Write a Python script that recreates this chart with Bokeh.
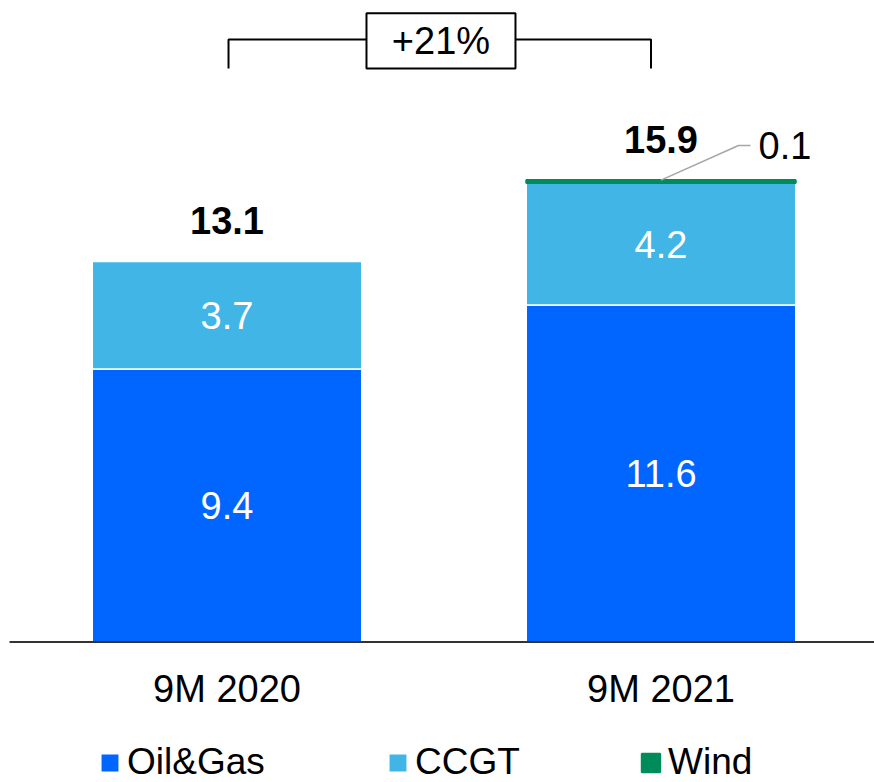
from bokeh.plotting import figure
from bokeh.models import Range1d, Legend, LegendItem, ColumnDataSource
from bokeh.core.properties import value
from bokeh.embed import file_html
from bokeh.resources import INLINE

# ---- data -------------------------------------------------------------
periods = ["9M 2020", "9M 2021"]
oil_gas = [9.4, 11.6]
ccgt = [3.7, 4.2]
wind = [0.0, 0.1]

series_names = ["Oil&Gas", "CCGT", "Wind"]
colors = {"Oil&Gas": "#0066FF", "CCGT": "#41B6E6", "Wind": "#008C5A"}

FONT = "Liberation Sans"
FS = "38px"

# ---- derived values ---------------------------------------------------
xs = list(range(len(periods)))
ccgt_bottom = oil_gas
ccgt_top = [o + c for o, c in zip(oil_gas, ccgt)]
totals = [round(o + c + w, 1) for o, c, w in zip(oil_gas, ccgt, wind)]
growth = round((totals[1] / totals[0] - 1) * 100)
growth_label = f"+{growth}%"

# ---- figure: one frame covering the whole canvas ------------------------
W, H = 874, 782
PX_X = 434.0      # pixels per category step
PX_Y = 29.05      # pixels per unit
X0 = 226.5        # pixel position of first category centre
Y0 = 641.5        # pixel position of the zero line (from top)

p = figure(
    width=W, height=H,
    x_range=Range1d(-X0 / PX_X, (W - X0) / PX_X),
    y_range=Range1d(-(H - Y0) / PX_Y, Y0 / PX_Y),
    x_axis_location=None, y_axis_location=None,
    toolbar_location=None, output_backend="svg",
    min_border=0, outline_line_color=None,
    background_fill_color="white", border_fill_color="white",
)
p.grid.visible = False

BAR_W = 269.5 / PX_X

oil_src = ColumnDataSource(dict(x=xs, bottom=[0] * len(xs), top=oil_gas,
                                mid=[v / 2 for v in oil_gas],
                                lab=[f"{v:.1f}" for v in oil_gas]))
ccgt_src = ColumnDataSource(dict(x=xs, bottom=ccgt_bottom, top=ccgt_top,
                                 mid=[b + v / 2 for b, v in zip(ccgt_bottom, ccgt)],
                                 lab=[f"{v:.1f}" for v in ccgt]))
wind_idx = [i for i, v in enumerate(wind) if v > 0]
wind_src = ColumnDataSource(dict(x=[xs[i] for i in wind_idx],
                                 bottom=[ccgt_top[i] for i in wind_idx],
                                 top=[ccgt_top[i] + wind[i] for i in wind_idx],
                                 lab=[f"{wind[i]:.1f}" for i in wind_idx]))

r_oil = p.vbar(x="x", width=BAR_W, bottom="bottom", top="top", source=oil_src,
               fill_color=colors["Oil&Gas"], line_color="white", line_width=1.5)
r_ccgt = p.vbar(x="x", width=BAR_W, bottom="bottom", top="top", source=ccgt_src,
                fill_color=colors["CCGT"], line_color="white", line_width=1.5)
r_wind = p.vbar(x="x", width=BAR_W, bottom="bottom", top="top", source=wind_src,
                fill_color=colors["Wind"], line_color=colors["Wind"], line_width=2)

# zero line
p.segment(x0=[-217.5 / PX_X], y0=[0], x1=[(W - X0) / PX_X], y1=[0],
          line_color="#333333", line_width=2)

# segment value labels
for src in (oil_src, ccgt_src):
    p.text(x="x", y="mid", text="lab", source=src, text_color="white",
           text_font=value(FONT), text_font_size=FS,
           text_align="center", text_baseline="middle")

# totals above bars
p.text(x=xs, y=[t + 1.4 for t in totals], text=[f"{t:.1f}" for t in totals],
       text_color="black", text_font=value(FONT), text_font_size=FS,
       text_font_style="bold", text_align="center", text_baseline="middle")

# call-out for the thin wind segment
for i in wind_idx:
    top = ccgt_top[i] + wind[i]
    lx = [xs[i], xs[i] + 0.1786, xs[i] + 0.2062]
    ly = [top, top + 1.19, top + 1.19]
    p.line(x=lx, y=ly, line_color="#A6A6A6", line_width=1.5)
    p.text(x=[xs[i] + 0.2247], y=[top + 1.19], text=[f"{wind[i]:.1f}"],
           text_color="black", text_font=value(FONT), text_font_size=FS,
           text_align="left", text_baseline="middle")

# category labels under the zero line
p.text(x=xs, y=[-1.635] * len(xs), text=periods, text_color="black",
       text_font=value(FONT), text_font_size=FS,
       text_align="center", text_baseline="middle")

# growth bracket between the two periods
br_y = 20.74
br_drop = 1.0
box_l, box_r = 0.3214, 0.6647
box_b, box_t = 19.74, 21.64
p.multi_line(xs=[[xs[0] + 0.0035, xs[0] + 0.0035, box_l],
                 [box_r, xs[1] - 0.023, xs[1] - 0.023]],
             ys=[[br_y - br_drop, br_y, br_y], [br_y, br_y, br_y - br_drop]],
             line_color="black", line_width=2)
p.quad(left=[box_l], right=[box_r], bottom=[box_b], top=[box_t],
       fill_color="white", line_color="black", line_width=2)
p.text(x=[(box_l + box_r) / 2], y=[(box_b + box_t) / 2], text=[growth_label],
       text_color="black", text_font=value(FONT), text_font_size=FS,
       text_align="center", text_baseline="middle")

# legend: one entry per block so each can sit at its own spot
legend_x = {"Oil&Gas": 98, "CCGT": 386, "Wind": 639}
renderers = {"Oil&Gas": r_oil, "CCGT": r_ccgt, "Wind": r_wind}
for name in series_names:
    leg = Legend(items=[LegendItem(label=name, renderers=[renderers[name]])],
                 location=(legend_x[name], -1), orientation="horizontal",
                 padding=0, margin=0, spacing=0,
                 glyph_width=23, glyph_height=23, label_standoff=6,
                 label_text_font=FONT, label_text_font_size="37px",
                 label_text_color="black",
                 border_line_color=None, background_fill_alpha=0)
    p.add_layout(leg)

open("out.html", "w").write(file_html(p, INLINE))
